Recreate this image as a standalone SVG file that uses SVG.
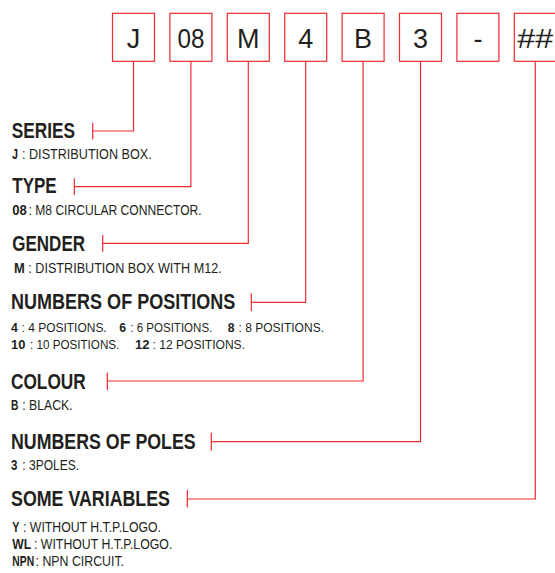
<svg xmlns="http://www.w3.org/2000/svg" width="555" height="573" viewBox="0 0 555 573">
<style>
.box{fill:#fff;stroke:#ee2b30;stroke-width:1.2}
.bt{font-family:"Liberation Sans Narrow","Liberation Sans",Arial,sans-serif;font-size:27px;fill:#231f20;text-anchor:middle}
.h{font-family:"Liberation Sans Narrow","Liberation Sans",Arial,sans-serif;font-size:21.5px;font-weight:bold;fill:#231f20}
.d{font-family:"Liberation Sans Narrow","Liberation Sans",Arial,sans-serif;font-size:13.8px;fill:#231f20}
.p{font-size:13.3px}
.k{font-weight:bold}
.c{fill:none;stroke:#ee2b30;stroke-width:1.2}
</style>
<rect width="555" height="573" fill="#fff"/>
<g id="box-J"><rect class="box" x="112.5" y="13.3" width="42" height="48"/><text class="bt" x="133.5" y="48.3">J</text></g>
<g id="box-08"><rect class="box" x="169.9" y="13.3" width="42" height="48"/><text class="bt" x="190.9" y="48.3" textLength="27" lengthAdjust="spacingAndGlyphs">08</text></g>
<g id="box-M"><rect class="box" x="227.3" y="13.3" width="42" height="48"/><text class="bt" x="248.3" y="48.3">M</text></g>
<g id="box-4"><rect class="box" x="284.7" y="13.3" width="42" height="48"/><text class="bt" x="305.7" y="48.3">4</text></g>
<g id="box-B"><rect class="box" x="342.1" y="13.3" width="42" height="48"/><text class="bt" x="363.1" y="48.3">B</text></g>
<g id="box-3"><rect class="box" x="399.5" y="13.3" width="42" height="48"/><text class="bt" x="420.5" y="48.3">3</text></g>
<g id="box-dash"><rect class="box" x="456.9" y="13.3" width="42" height="48"/><text class="bt" x="477.9" y="48.3">-</text></g>
<g id="box-hash"><rect class="box" x="514.3" y="13.3" width="42" height="48"/><text class="bt" x="535.3" y="48.3" textLength="36" lengthAdjust="spacingAndGlyphs">##</text></g>
<g id="connectors">
<path class="c" d="M133.5 61.3V131H92.7M92.7 122.7V139.3"/>
<path class="c" d="M190.9 61.3V186.7H74.3M74.3 178.3V195"/>
<path class="c" d="M248.3 61.3V243.3H102.7M102.7 235V251.7"/>
<path class="c" d="M305.7 61.3V302.3H251.3M251.3 293.3V311"/>
<path class="c" d="M363.1 61.3V381H107.3M107.3 372.7V390"/>
<path class="c" d="M420.5 61.3V441.7H211.3M211.3 432.7V450.7"/>
<path class="c" d="M535.3 61.3V499H187.3M187.3 490V507.3"/>
</g>
<g id="series">
<text class="h" x="11.7" y="138.3" textLength="63.3" lengthAdjust="spacingAndGlyphs">SERIES</text>
<text class="d k" x="12" y="159.3" textLength="6" lengthAdjust="spacingAndGlyphs">J</text>
<text class="d" x="22" y="159.3" textLength="129.7" lengthAdjust="spacingAndGlyphs">: DISTRIBUTION BOX.</text>
</g>
<g id="type">
<text class="h" x="12.3" y="193.3" textLength="44.4" lengthAdjust="spacingAndGlyphs">TYPE</text>
<text class="d k" x="12.2" y="215" textLength="14.6" lengthAdjust="spacingAndGlyphs">08</text>
<text class="d" x="28.5" y="215" textLength="173.2" lengthAdjust="spacingAndGlyphs">: M8 CIRCULAR CONNECTOR.</text>
</g>
<g id="gender">
<text class="h" x="12.3" y="250.5" textLength="72.7" lengthAdjust="spacingAndGlyphs">GENDER</text>
<text class="d k" x="14" y="272.7" textLength="10.8" lengthAdjust="spacingAndGlyphs">M</text>
<text class="d" x="28.3" y="272.7" textLength="193.4" lengthAdjust="spacingAndGlyphs">: DISTRIBUTION BOX WITH M12.</text>
</g>
<g id="positions">
<text class="h" x="11" y="309.3" textLength="224.3" lengthAdjust="spacingAndGlyphs">NUMBERS OF POSITIONS</text>
<text class="d p k" x="11" y="331.7" textLength="6.8" lengthAdjust="spacingAndGlyphs">4</text>
<text class="d p" x="21.5" y="331.7" textLength="85.2" lengthAdjust="spacingAndGlyphs">: 4 POSITIONS.</text>
<text class="d p k" x="119.3" y="331.7" textLength="6.8" lengthAdjust="spacingAndGlyphs">6</text>
<text class="d p" x="130.3" y="331.7" textLength="82" lengthAdjust="spacingAndGlyphs">: 6 POSITIONS.</text>
<text class="d p k" x="227.7" y="331.7" textLength="6.8" lengthAdjust="spacingAndGlyphs">8</text>
<text class="d p" x="238.5" y="331.7" textLength="85.5" lengthAdjust="spacingAndGlyphs">: 8 POSITIONS.</text>
<text class="d p k" x="11" y="349.3" textLength="14.4" lengthAdjust="spacingAndGlyphs">10</text>
<text class="d p" x="30" y="349.3" textLength="89.3" lengthAdjust="spacingAndGlyphs">: 10 POSITIONS.</text>
<text class="d p k" x="135" y="349.3" textLength="14.6" lengthAdjust="spacingAndGlyphs">12</text>
<text class="d p" x="152.5" y="349.3" textLength="92.5" lengthAdjust="spacingAndGlyphs">: 12 POSITIONS.</text>
</g>
<g id="colour">
<text class="h" x="11" y="389.3" textLength="74.7" lengthAdjust="spacingAndGlyphs">COLOUR</text>
<text class="d k" x="11" y="410" textLength="7.4" lengthAdjust="spacingAndGlyphs">B</text>
<text class="d" x="22.3" y="410" textLength="50.4" lengthAdjust="spacingAndGlyphs">: BLACK.</text>
</g>
<g id="poles">
<text class="h" x="11" y="449.3" textLength="184.7" lengthAdjust="spacingAndGlyphs">NUMBERS OF POLES</text>
<text class="d k" x="11" y="470" textLength="6.4" lengthAdjust="spacingAndGlyphs">3</text>
<text class="d" x="22.3" y="470" textLength="56.7" lengthAdjust="spacingAndGlyphs">: 3POLES.</text>
</g>
<g id="variables">
<text class="h" x="11" y="506" textLength="159" lengthAdjust="spacingAndGlyphs">SOME VARIABLES</text>
<text class="d k" x="12.3" y="532.3" textLength="7.2" lengthAdjust="spacingAndGlyphs">Y</text>
<text class="d" x="23" y="532.3" textLength="138" lengthAdjust="spacingAndGlyphs">: WITHOUT H.T.P.LOGO.</text>
<text class="d k" x="12.3" y="549" textLength="18.8" lengthAdjust="spacingAndGlyphs">WL</text>
<text class="d" x="34" y="549" textLength="138.3" lengthAdjust="spacingAndGlyphs">: WITHOUT H.T.P.LOGO.</text>
<text class="d k" transform="translate(12.3 565.7) scale(0.75 1)" x="0" y="0">NPN</text>
<text class="d" x="35.6" y="565.7" textLength="88.4" lengthAdjust="spacingAndGlyphs">: NPN CIRCUIT.</text>
</g>
</svg>
